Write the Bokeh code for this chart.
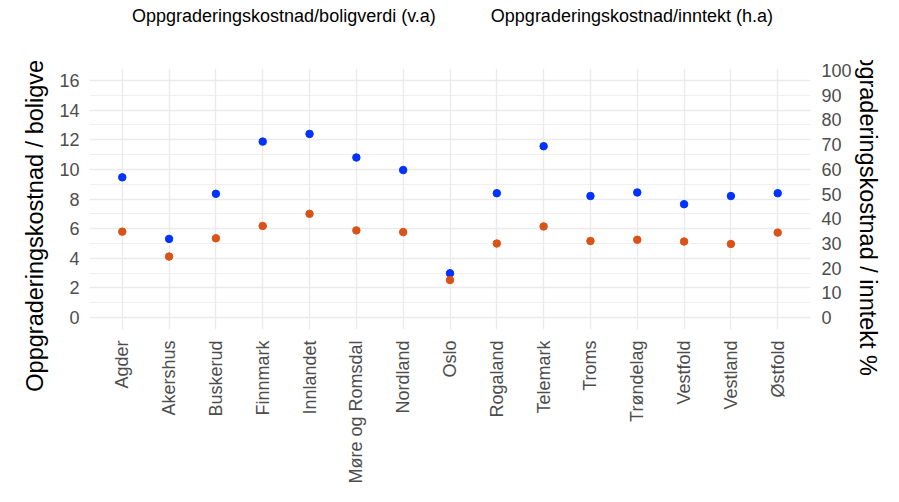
import math
from bokeh.plotting import figure
from bokeh.layouts import column
from bokeh.models import (FactorRange, Range1d, LinearAxis, FixedTicker, ColumnDataSource,
                          Legend, LegendItem)
from bokeh.embed import file_html
from bokeh.resources import INLINE

# ---- data ----
fylker = ["Agder", "Akershus", "Buskerud", "Finnmark", "Innlandet", "Møre og Romsdal",
          "Nordland", "Oslo", "Rogaland", "Telemark", "Troms", "Trøndelag",
          "Vestfold", "Vestland", "Østfold"]
kost_boligverdi = [9.46, 5.31, 8.35, 11.87, 12.39, 10.80, 9.95, 2.99, 8.39, 11.56,
                   8.20, 8.44, 7.65, 8.20, 8.39]
kost_inntekt = [34.8, 24.7, 32.1, 37.1, 42.0, 35.3, 34.6, 15.2, 30.0, 36.9,
                31.0, 31.5, 30.8, 29.8, 34.4]
left_ticks = [0, 2, 4, 6, 8, 10, 12, 14, 16]
left_minor = [1, 3, 5, 7, 9, 11, 13, 15]
right_ticks = [0, 10, 20, 30, 40, 50, 60, 70, 80, 90, 100]
scale_factor = 6  # sekundærakse = venstre * 6

label_blue = "Oppgraderingskostnad/boligverdi (v.a)"
label_orange = "Oppgraderingskostnad/inntekt (h.a)"
title_left = "Oppgraderingskostnad / boligverdi %"
title_right = "Oppgraderingskostnad / inntekt %"
blue = "#0033FF"
orange = "#D95319"

FONT = "Liberation Sans"
TICK_SIZE = "18px"
TITLE_SIZE = "23.5px"
W = 883
H_LEG = 60
H_MAIN = 426

# ---------------- legend strip ----------------
pl = figure(width=W, height=H_LEG, output_backend="svg", toolbar_location=None,
            x_range=Range1d(0, 1), y_range=Range1d(0, 1),
            x_axis_location=None, y_axis_location=None,
            min_border_left=89, min_border_right=0, min_border_top=0, min_border_bottom=0)
pl.outline_line_color = None
pl.xgrid.visible = False
pl.ygrid.visible = False
lr1 = pl.scatter(x=[], y=[], size=7.5, color=blue)
lr2 = pl.scatter(x=[], y=[], size=7.5, color=orange)
legend = Legend(items=[LegendItem(label=label_blue, renderers=[lr1]),
                       LegendItem(label=label_orange, renderers=[lr2])],
                orientation="horizontal", location="top_left",
                label_text_font=FONT, label_text_font_size=TICK_SIZE,
                label_text_color="black", label_standoff=17, spacing=18,
                padding=0, margin=6, border_line_color=None,
                background_fill_alpha=0)
pl.add_layout(legend)

# ---------------- main chart ----------------
src_blue = ColumnDataSource(dict(x=fylker, y=kost_boligverdi))
src_orange = ColumnDataSource(dict(x=fylker, y=kost_inntekt))

p = figure(width=W, height=H_MAIN, output_backend="svg", toolbar_location=None,
           x_range=FactorRange(factors=fylker, range_padding=0.2, range_padding_units="absolute"),
           y_range=Range1d(-0.8, 16.8),
           min_border_left=66, min_border_right=66, min_border_top=8, min_border_bottom=10)
p.extra_y_ranges = {"right": Range1d(-0.8 * scale_factor, 16.8 * scale_factor)}
p.outline_line_color = None

p.scatter("x", "y", source=src_blue, size=7.5, color=blue)
p.scatter("x", "y", source=src_orange, size=7.5, color=orange, y_range_name="right")

ya = p.yaxis[0]
ya.ticker = FixedTicker(ticks=left_ticks, minor_ticks=left_minor)
ya.axis_label = title_left

ra = LinearAxis(y_range_name="right", ticker=FixedTicker(ticks=right_ticks),
                axis_label=title_right)
p.add_layout(ra, "right")

xa = p.xaxis[0]
xa.major_label_orientation = math.pi / 2

for ax in [ya, ra, xa]:
    ax.axis_line_color = None
    ax.major_tick_line_color = None
    ax.minor_tick_line_color = None
    ax.major_label_text_font = FONT
    ax.major_label_text_font_size = TICK_SIZE
    ax.major_label_text_color = "#4D4D4D"
    ax.axis_label_text_font = FONT
    ax.axis_label_text_font_size = TITLE_SIZE
    ax.axis_label_text_font_style = "normal"
    ax.axis_label_text_color = "black"
ya.major_label_standoff = 4
ra.major_label_standoff = 5
xa.major_label_standoff = 5
ya.axis_label_standoff = 8
ra.axis_label_standoff = 0

p.ygrid.ticker = FixedTicker(ticks=left_ticks, minor_ticks=left_minor)
p.ygrid.grid_line_color = "#EBEBEB"
p.ygrid.grid_line_width = 1.4
p.ygrid.minor_grid_line_color = "#EBEBEB"
p.ygrid.minor_grid_line_width = 0.8
p.xgrid.grid_line_color = "#EBEBEB"
p.xgrid.grid_line_width = 1.4

layout = column(pl, p, spacing=0)
open("out.html", "w").write(file_html(layout, INLINE))
